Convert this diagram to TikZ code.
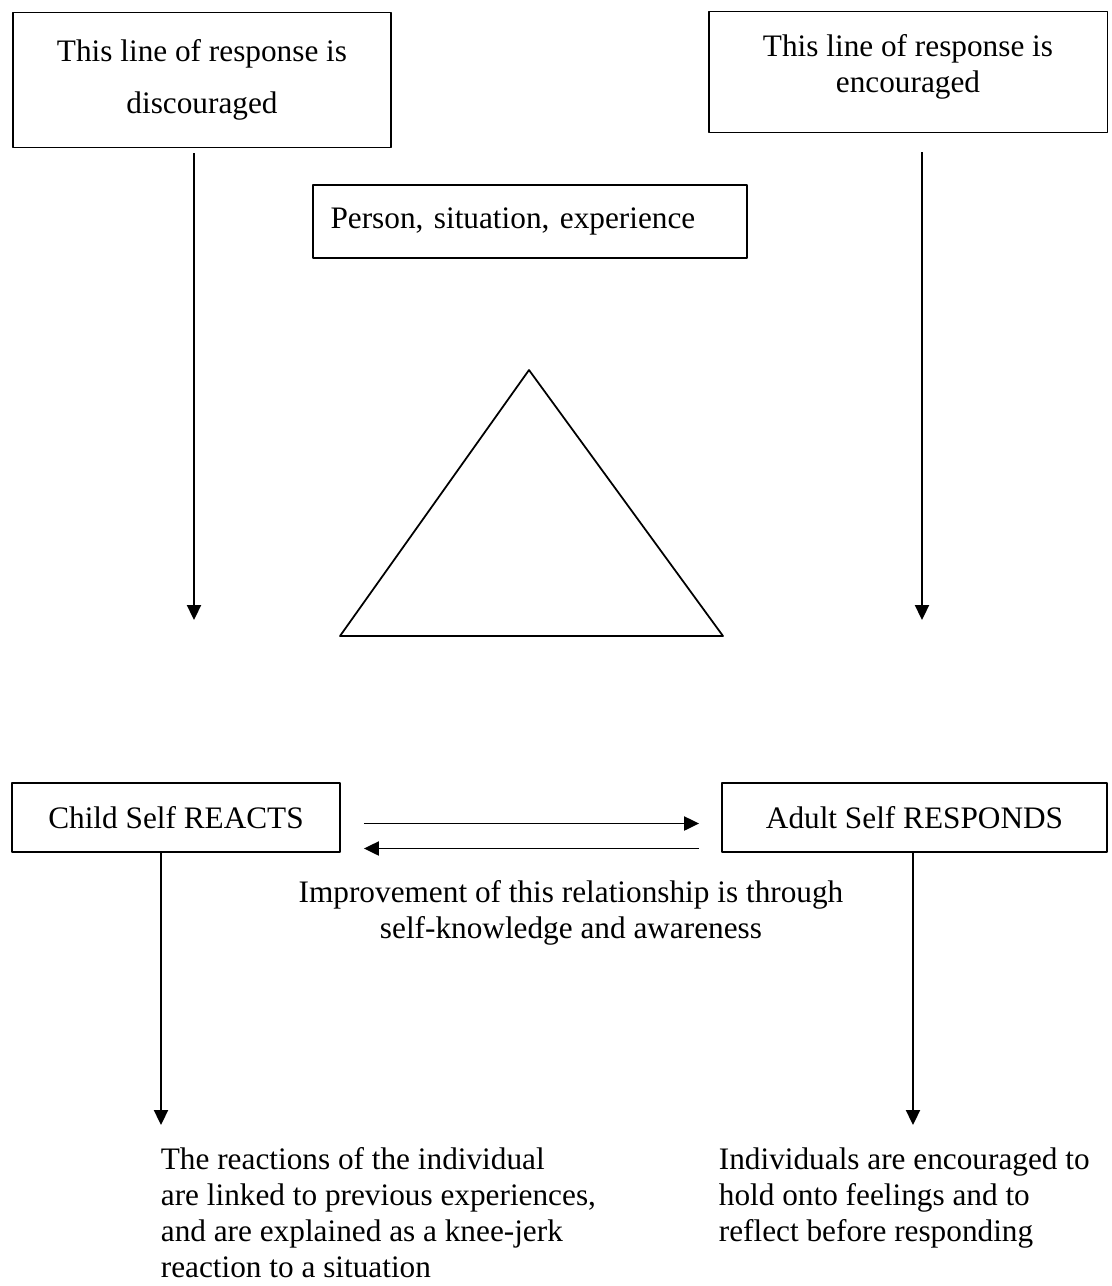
\documentclass[tikz,border=0pt]{standalone}
\usepackage{fontspec}
\setmainfont{Liberation Serif}
\usetikzlibrary{arrows.meta,calc}
\begin{document}
\begin{tikzpicture}[x=0.02cm,y=-0.02cm,>={Triangle[length=8.5pt,width=8pt]},line width=1pt,line join=round,
  font=\fontsize{17.8}{20.5}\selectfont,
  box/.style={draw,line width=1.1pt,inner sep=0pt,align=center},
  txt/.style={inner sep=0pt,align=left,anchor=north west}]
\useasboundingbox (0,0) rectangle (1112,1286);
\node[box,minimum width=7.56cm,minimum height=2.7cm] (disc) at (202,80) {This line of response is\\[9pt]discouraged};
\node[box,minimum width=7.98cm,minimum height=2.42cm,text depth=9.5pt] (enc) at (908,72) {This line of response is\\encouraged};
\node[box,minimum height=1.46cm,inner xsep=0.35cm,text width=7.98cm,align=left] (pse) at (530,221.5) {Person, situation, experience};
\draw (529,370)--(340,636)--(723,636)--cycle;
\coordinate (dt) at (194,620);
\coordinate (et) at (922,620);
\draw[->] (dt |- disc.south) ++(0,5) -- (dt);
\draw[->] (et |- enc.south) ++(0,19) -- (et);
\node[box,minimum width=6.56cm,minimum height=1.38cm] (child) at (176,817.5) {Child Self REACTS};
\node[box,minimum width=7.7cm,minimum height=1.38cm] (adult) at (914.5,817.5) {Adult Self RESPONDS};
\draw[->,shorten <=0.46cm,shorten >=0.44cm] ($(child.east)+(0,6)$) -- ($(adult.west)+(0,6)$);
\draw[->,shorten <=0.44cm,shorten >=0.46cm] ($(adult.west)+(0,31)$) -- ($(child.east)+(0,31)$);
\node[align=center,inner sep=0pt] (impr) at (571,913) {Improvement of this relationship is through\\self-knowledge and awareness};
\coordinate (ct) at (161,1125);
\coordinate (at) at (913,1125);
\draw[->] (ct |- child.south) -- (ct);
\draw[->] (at |- adult.south) -- (at);
\node[txt] (react) at (160,1147) {The reactions of the individual\\are linked to previous experiences,\\and are explained as a knee-jerk\\reaction to a situation};
\node[txt] (resp) at (718,1147) {Individuals are encouraged to\\hold onto feelings and to\\reflect before responding};
\end{tikzpicture}
\end{document}
